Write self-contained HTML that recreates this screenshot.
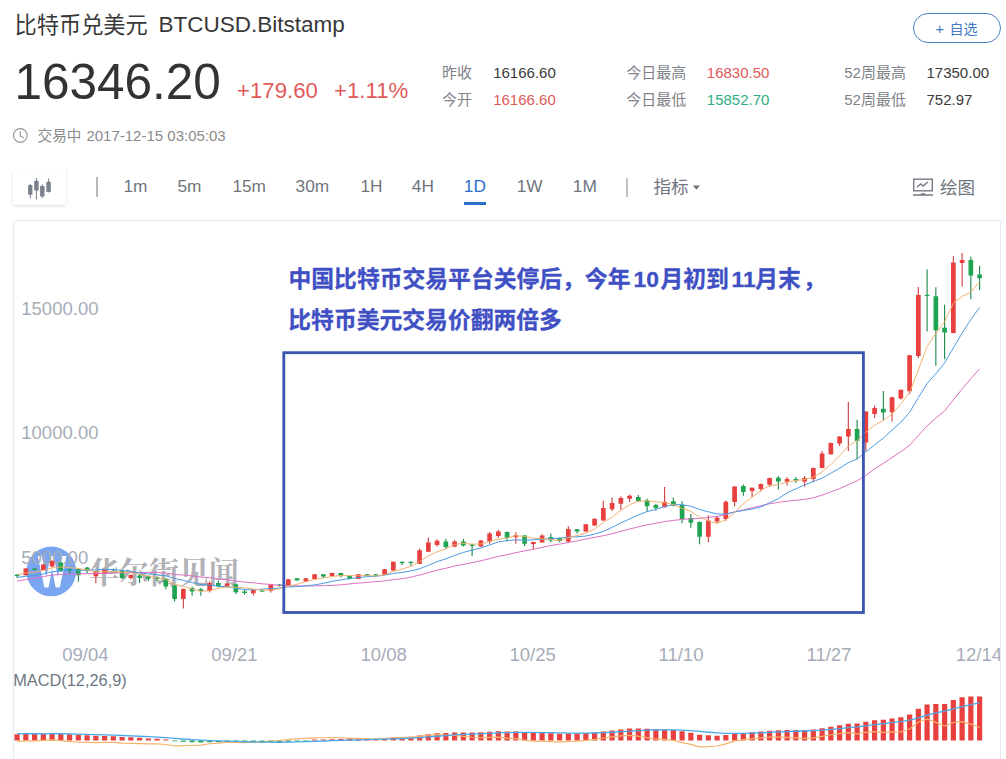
<!DOCTYPE html>
<html><head><meta charset="utf-8"><title>BTCUSD</title>
<style>
html,body{margin:0;padding:0;background:#fff}
body{width:1006px;height:759px;position:relative;overflow:hidden;font-family:"Liberation Sans",sans-serif;color:#333}
.t{position:absolute;white-space:nowrap;line-height:1}
.tb{color:#70757d;font-size:17.3px;top:178.3px}
.v{font-size:15px;color:#3a3a3a}
.red{color:#e05a5a}
.grn{color:#2fae80}
#ov{position:absolute;left:0;top:0}
#ov text{font-family:"Liberation Sans","Noto Sans CJK SC",sans-serif}
#chartbox{position:absolute;left:13px;top:220px;width:988px;height:560px;border:1px solid #e8e9ec;border-radius:3px;box-sizing:border-box;background:#fff;box-shadow:0 0 4px rgba(100,110,130,.07)}
#kbtn{position:absolute;left:12.8px;top:169.3px;width:53.6px;height:35.6px;border-radius:3px;background:#fff;box-shadow:0 1px 3px rgba(60,80,120,.20)}
#fav{position:absolute;left:913px;top:13px;width:88px;height:30px;box-sizing:border-box;border:1px solid #4a7fc4;border-radius:15px}
</style></head><body>
<div id="chartbox"></div>
<div id="kbtn"></div>
<div id="fav"></div>
<div class="t" style="left:158.5px;top:14.1px;font-size:22.5px;color:#383838">BTCUSD.Bitstamp</div>
<div class="t" style="left:14.4px;top:57.3px;font-size:49.5px;color:#333">16346.20</div>
<div class="t red" style="left:237px;top:80px;font-size:22.2px">+179.60</div>
<div class="t red" style="left:334px;top:80px;font-size:22.2px">+1.11%</div>
<div class="t" style="left:86.4px;top:128.2px;font-size:15px;color:#8a8a8a">2017-12-15 03:05:03</div>
<div class="t v" style="left:493.2px;top:64.6px">16166.60</div>
<div class="t v red" style="left:493.2px;top:91.6px">16166.60</div>
<div class="t v red" style="left:706.8px;top:64.6px">16830.50</div>
<div class="t v grn" style="left:706.8px;top:91.6px">15852.70</div>
<div class="t v" style="left:844.2px;top:64.6px;color:#7f8389">52</div>
<div class="t v" style="left:844.2px;top:91.6px;color:#7f8389">52</div>
<div class="t v" style="left:926.5px;top:64.6px">17350.00</div>
<div class="t v" style="left:926.5px;top:91.6px">752.97</div>
<div class="t" style="left:935.5px;top:21.5px;font-size:14.5px;color:#447cc4">+</div>
<div class="t" style="left:95.8px;top:177px;width:2px;height:19.5px;background:#b4b7bc"></div>
<div class="t tb" style="left:123.5px">1m</div>
<div class="t tb" style="left:177.5px">5m</div>
<div class="t tb" style="left:232.4px">15m</div>
<div class="t tb" style="left:295.6px">30m</div>
<div class="t tb" style="left:360.4px">1H</div>
<div class="t tb" style="left:411.8px">4H</div>
<div class="t tb" style="left:463.8px;color:#2a6fc9">1D</div>
<div class="t" style="left:464px;top:201.7px;width:22px;height:3px;background:#2a6fc9"></div>
<div class="t tb" style="left:516.7px">1W</div>
<div class="t tb" style="left:572.8px">1M</div>
<div class="t" style="left:625.8px;top:177.5px;width:2.6px;height:19px;background:#bfc1c5"></div>
<div class="t" style="left:13.2px;top:672px;font-size:16.35px;color:#6d7784">MACD(12,26,9)</div>
<svg id="ov" width="1006" height="759" viewBox="0 0 1006 759">
<defs><clipPath id="cc"><rect x="14" y="221" width="986" height="540"/></clipPath></defs>
<g clip-path="url(#cc)">
<circle cx="51.3" cy="571.4" r="24.9" fill="#7aa5f0"/>
<clipPath id="wc"><rect x="30" y="556" width="44" height="31.6"/></clipPath><path clip-path="url(#wc)" d="M39.1 552.7L46.5 587.5L52.1 558L57.7 587.5L65.1 552.7" fill="none" stroke="#fff" stroke-width="4.1" stroke-linejoin="miter" stroke-miterlimit="10"/>
<text x="89" y="583.1" font-size="30" font-weight="bold" fill="#b0b2b7" style="font-family:'Liberation Serif','Noto Serif CJK SC',serif">华尔街见闻</text>
<text x="21.3" y="315" font-size="18.5" fill="#a6acb8">15000.00</text>
<text x="21.3" y="439.3" font-size="18.5" fill="#a6acb8">10000.00</text>
<text x="21.3" y="563.8" font-size="18.5" fill="#a6acb8">5000.00</text>
<text x="62.2" y="661.3" font-size="18.5" fill="#a6acb8">09/04</text>
<text x="211.2" y="661.3" font-size="18.5" fill="#a6acb8">09/21</text>
<text x="360.5" y="661.3" font-size="18.5" fill="#a6acb8">10/08</text>
<text x="509.5" y="661.3" font-size="18.5" fill="#a6acb8">10/25</text>
<text x="658.5" y="661.3" font-size="18.5" fill="#a6acb8">11/10</text>
<text x="806.5" y="661.3" font-size="18.5" fill="#a6acb8">11/27</text>
<text x="955.8" y="661.3" font-size="18.5" fill="#a6acb8">12/14</text>
<path d="M25.85 568V575.5M43.35 564V570M52.1 560V567.5M95.85 571V583.3M104.6 569V574M130.85 574.5V579.6M183.35 588.5V608.4M209.6 581.3V592.6M227.1 583V587M253.35 589.3V595.4M270.85 584V592.5M288.35 579V586M305.85 578V582M314.6 574V579.3M332.1 572.8V576.3M358.35 574V579.3M384.6 568.8V575M393.35 561.5V570.8M419.6 548.6V564M428.35 537.4V552M437.1 539.3V546.6M454.6 540V547.5M480.85 540V547M489.6 532V543.7M498.35 529.7V538M515.85 532.2V543.7M533.35 541.7V549.5M542.1 534.3V542.8M568.35 526.3V542.7M585.85 524V531.8M594.6 518.5V525.8M603.35 500.8V520.8M612.1 497.4V511M620.85 496.2V509.7M629.6 494.5V502M664.6 486.9V507.6M708.35 515.3V542.3M717.1 516V523.2M725.85 500.4V520.7M734.6 486.3V506.3M752.1 487.4V497M760.85 483.6V491.5M769.6 477.6V486.8M787.1 477V485.6M804.6 476V486.8M813.35 467.5V482.2M822.1 451V468.3M830.85 442.5V454.7M839.6 436.2V446M848.35 402V451M865.85 411.2V451M874.6 405.6V418M892.1 396.8V421.7M900.85 389.4V399.5M909.6 354.8V394.2M918.35 287V358M953.35 256.2V333.3M962.1 253V286.5" stroke="#d04544" stroke-width="1.15" fill="none"/>
<path d="M17.1 574V578M34.6 568V570.5M60.85 562V572M69.6 568.5V574M78.35 568.5V581.8M87.1 567V573M113.35 568.5V571M122.1 570V579M139.6 573.7V583M148.35 575.5V581.3M157.1 576.5V581M165.85 578V589.3M174.6 584.7V601.6M192.1 586.4V595.7M200.85 588V595.7M218.35 580.5V587.2M235.85 583.7V594M244.6 589.3V594.8M262.1 590V592M279.6 584V586.5M297.1 578V580.6M323.35 574V578.2M340.85 572.8V577.3M349.6 575.8V579.3M367.1 574V576.3M375.85 574V576M402.1 561.5V565M410.85 561.5V565.8M445.85 539V549M463.35 539V546.6M472.1 544V556.2M507.1 531.5V541.2M524.6 535V546M550.85 533.6V542M559.6 537.5V542.3M577.1 529V533.6M638.35 495V501.6M647.1 498.7V511.4M655.85 503.8V510.6M673.35 497.4V506.2M682.1 501.3V523.2M690.85 514V527.8M699.6 521.5V544.3M743.35 484.4V495.7M778.35 476V489.5M795.85 477V483M857.1 419.7V459.4M883.35 391V420.2M927.1 269.5V331.5M935.85 287.2V365.7M944.6 304.6V359.3M970.85 256.7V299.2M979.6 265.7V290" stroke="#238a50" stroke-width="1.15" fill="none"/>
<path d="M23.5 568.4h4.7V575.3h-4.7zM41 564.4h4.7V569.9h-4.7zM49.75 561h4.7V566.4h-4.7zM93.5 571.8h4.7V576.3h-4.7zM102.25 569.5h4.7V573.7h-4.7zM128.5 575h4.7V578h-4.7zM181 589h4.7V599h-4.7zM207.25 583h4.7V591h-4.7zM224.75 583.5h4.7V586.4h-4.7zM251 589.8h4.7V593.2h-4.7zM268.5 584.2h4.7V590.7h-4.7zM286 579.3h4.7V585.8h-4.7zM303.5 578.2h4.7V581.5h-4.7zM312.25 574.3h4.7V579h-4.7zM329.75 573h4.7V576h-4.7zM356 574.3h4.7V579h-4.7zM382.25 569.2h4.7V574.8h-4.7zM391 561.8h4.7V570.5h-4.7zM417.25 550.3h4.7V563.8h-4.7zM426 542.5h4.7V551.7h-4.7zM434.75 540.7h4.7V545h-4.7zM452.25 541.5h4.7V546.6h-4.7zM478.5 540.4h4.7V546.6h-4.7zM487.25 533.6h4.7V541.5h-4.7zM496 531.4h4.7V536h-4.7zM513.5 535.3h4.7V537.3h-4.7zM531 542h4.7V544h-4.7zM539.75 535.6h4.7V542.4h-4.7zM566 528.9h4.7V541.5h-4.7zM583.5 524.3h4.7V531.4h-4.7zM592.25 518.8h4.7V525.4h-4.7zM601 508h4.7V520.4h-4.7zM609.75 503h4.7V509.2h-4.7zM618.5 497.9h4.7V503.8h-4.7zM627.25 495.7h4.7V498.7h-4.7zM662.25 501.8h4.7V507.2h-4.7zM706 520.4h4.7V536.7h-4.7zM714.75 517.7h4.7V521.5h-4.7zM723.5 501.8h4.7V519h-4.7zM732.25 486.6h4.7V502h-4.7zM749.75 487.7h4.7V491h-4.7zM758.5 484h4.7V489h-4.7zM767.25 478h4.7V484.8h-4.7zM784.75 478.9h4.7V481.7h-4.7zM802.25 478h4.7V481.4h-4.7zM811 467.9h4.7V478.9h-4.7zM819.75 453.5h4.7V467.9h-4.7zM828.5 442.9h4.7V454.3h-4.7zM837.25 436.6h4.7V443.4h-4.7zM846 429h4.7V436.6h-4.7zM863.5 411.6h4.7V442.5h-4.7zM872.25 408h4.7V413.9h-4.7zM889.75 397.2h4.7V412.3h-4.7zM898.5 389.8h4.7V398.5h-4.7zM907.25 355.2h4.7V391.3h-4.7zM916 295h4.7V356.1h-4.7zM951 262.5h4.7V332.9h-4.7zM959.75 260h4.7V263.1h-4.7z" fill="#e8403f"/>
<path d="M14.75 574.5h4.7V576h-4.7zM32.25 568.4h4.7V570h-4.7zM58.5 562.4h4.7V570.8h-4.7zM67.25 569h4.7V571h-4.7zM76 569h4.7V575.3h-4.7zM84.75 567.4h4.7V571h-4.7zM111 569h4.7V570.3h-4.7zM119.75 570.3h4.7V578h-4.7zM137.25 575.4h4.7V578h-4.7zM146 576.3h4.7V578.8h-4.7zM154.75 577h4.7V579h-4.7zM163.5 578.8h4.7V586.4h-4.7zM172.25 585.5h4.7V599h-4.7zM189.75 588h4.7V591.5h-4.7zM198.5 589.3h4.7V591h-4.7zM216 583h4.7V586.4h-4.7zM233.5 584.2h4.7V592.3h-4.7zM242.25 591.5h4.7V593h-4.7zM259.75 590.3h4.7V591.5h-4.7zM277.25 584.4h4.7V586h-4.7zM294.75 578.2h4.7V580.4h-4.7zM321 574.3h4.7V576.5h-4.7zM338.5 573h4.7V575.6h-4.7zM347.25 576h4.7V579h-4.7zM364.75 574.3h4.7V576h-4.7zM373.5 574.3h4.7V575.6h-4.7zM399.75 561.8h4.7V563h-4.7zM408.5 561.8h4.7V563h-4.7zM443.5 541.5h4.7V547h-4.7zM461 541.5h4.7V545.4h-4.7zM469.75 544.4h4.7V546h-4.7zM504.75 532h4.7V538h-4.7zM522.25 535.6h4.7V543.7h-4.7zM548.5 537h4.7V540.4h-4.7zM557.25 538h4.7V541h-4.7zM574.75 529.2h4.7V531.4h-4.7zM636 497h4.7V501.3h-4.7zM644.75 500.4h4.7V506.3h-4.7zM653.5 505h4.7V508h-4.7zM671 501.3h4.7V505.8h-4.7zM679.75 505h4.7V519h-4.7zM688.5 518h4.7V522.7h-4.7zM697.25 522h4.7V536.7h-4.7zM741 486h4.7V492h-4.7zM776 477.7h4.7V481.4h-4.7zM793.5 478.9h4.7V480.5h-4.7zM854.75 429h4.7V440.8h-4.7zM881 408.8h4.7V412.4h-4.7zM924.75 294.8h4.7V296h-4.7zM933.5 296.2h4.7V330.3h-4.7zM942.25 327.7h4.7V332.5h-4.7zM968.5 260h4.7V275.5h-4.7zM977.25 274.5h4.7V278.3h-4.7z" fill="#1fa551"/>
<path d="M17.1 580.99 L25.85 579.6 L34.6 578.18 L43.35 576.59 L52.1 575.11 L60.85 574.39 L69.6 573.93 L78.35 574 L87.1 573.65 L95.85 573.62 L104.6 573.35 L113.35 572.9 L122.1 572.89 L130.85 572.63 L139.6 572.44 L148.35 572.4 L157.1 572.43 L165.85 573.05 L174.6 574.36 L183.35 575.13 L192.1 575.91 L200.85 577.04 L209.6 577.69 L218.35 578.79 L227.1 579.91 L235.85 580.99 L244.6 582.09 L253.35 582.81 L262.1 583.84 L270.85 584.46 L279.6 585.29 L288.35 585.74 L297.1 585.86 L305.85 586.01 L314.6 585.83 L323.35 585.71 L332.1 585.41 L340.85 584.88 L349.6 583.88 L358.35 583.14 L367.1 582.37 L375.85 581.6 L384.6 580.9 L393.35 579.67 L402.1 578.64 L410.85 577.16 L419.6 575.03 L428.35 572.66 L437.1 570.12 L445.85 568.26 L454.6 566.04 L463.35 564.35 L472.1 562.62 L480.85 560.74 L489.6 558.7 L498.35 556.44 L507.1 554.69 L515.85 552.68 L524.6 550.91 L533.35 549.3 L542.1 547.28 L550.85 545.52 L559.6 544.11 L568.35 542.46 L577.1 540.89 L585.85 538.97 L594.6 537.39 L603.35 535.67 L612.1 533.79 L620.85 531.33 L629.6 529.04 L638.35 526.84 L647.1 524.85 L655.85 523.23 L664.6 521.64 L673.35 520.36 L682.1 519.41 L690.85 518.78 L699.6 518.43 L708.35 517.35 L717.1 516.46 L725.85 514.52 L734.6 511.81 L743.35 509.96 L752.1 507.77 L760.85 505.76 L769.6 503.72 L778.35 502.39 L787.1 501.19 L795.85 500.31 L804.6 499.43 L813.35 497.76 L822.1 495.12 L830.85 491.86 L839.6 488.61 L848.35 484.76 L857.1 480.86 L865.85 475.3 L874.6 468.86 L883.35 463.46 L892.1 457.44 L900.85 451.84 L909.6 445.27 L918.35 435.42 L927.1 425.84 L935.85 418.15 L944.6 410.88 L953.35 399.93 L962.1 388.99 L970.85 378.74 L979.6 368.75" fill="none" stroke="#e070c4" stroke-width="1.0" stroke-linejoin="round"/>
<path d="M17.1 577.38 L25.85 576.28 L34.6 575.47 L43.35 573.89 L52.1 571.81 L60.85 570.92 L69.6 570.18 L78.35 570.32 L87.1 570.13 L95.85 569.97 L104.6 569.32 L113.35 569.51 L122.1 570.31 L130.85 571.37 L139.6 573.07 L148.35 573.87 L157.1 574.67 L165.85 575.78 L174.6 578.58 L183.35 580.3 L192.1 582.5 L200.85 584.57 L209.6 585.07 L218.35 586.21 L227.1 586.76 L235.85 588.11 L244.6 589.51 L253.35 589.85 L262.1 589.1 L270.85 588.62 L279.6 588.07 L288.35 586.9 L297.1 586.64 L305.85 585.82 L314.6 584.9 L323.35 583.32 L332.1 581.32 L340.85 579.9 L349.6 578.65 L358.35 577.66 L367.1 576.66 L375.85 576.29 L384.6 575.17 L393.35 573.53 L402.1 572.38 L410.85 571.01 L419.6 568.74 L428.35 565.43 L437.1 561.6 L445.85 558.87 L454.6 555.42 L463.35 552.4 L472.1 550.08 L480.85 547.94 L489.6 545.02 L498.35 541.88 L507.1 540.65 L515.85 539.93 L524.6 540.23 L533.35 539.73 L542.1 539.14 L550.85 538.64 L559.6 538.14 L568.35 536.99 L577.1 536.77 L585.85 536.06 L594.6 534.14 L603.35 531.41 L612.1 527.34 L620.85 522.93 L629.6 518.94 L638.35 515.03 L647.1 511.56 L655.85 509.47 L664.6 506.51 L673.35 504.66 L682.1 504.68 L690.85 506.15 L699.6 509.52 L708.35 511.77 L717.1 513.97 L725.85 514.02 L734.6 512.05 L743.35 510.45 L752.1 509.04 L760.85 506.86 L769.6 502.76 L778.35 498.63 L787.1 492.85 L795.85 488.86 L804.6 484.89 L813.35 481.5 L822.1 478.19 L830.85 473.28 L839.6 468.17 L848.35 462.67 L857.1 458.95 L865.85 451.97 L874.6 444.88 L883.35 438.07 L892.1 429.99 L900.85 422.18 L909.6 412.35 L918.35 397.56 L927.1 383.5 L935.85 373.63 L944.6 362.8 L953.35 347.89 L962.1 333.09 L970.85 319.4 L979.6 307.51" fill="none" stroke="#4a9be4" stroke-width="1.0" stroke-linejoin="round"/>
<path d="M17.1 574.93 L25.85 572.93 L34.6 572.15 L43.35 570.44 L52.1 567.96 L60.85 566.92 L69.6 567.44 L78.35 568.5 L87.1 569.82 L95.85 571.98 L104.6 571.72 L113.35 571.58 L122.1 572.12 L130.85 572.92 L139.6 574.16 L148.35 576.02 L157.1 577.76 L165.85 579.44 L174.6 584.24 L183.35 586.44 L192.1 588.98 L200.85 591.38 L209.6 590.7 L218.35 588.18 L227.1 587.08 L235.85 587.24 L244.6 587.64 L253.35 589 L262.1 590.02 L270.85 590.16 L279.6 588.9 L288.35 586.16 L297.1 584.28 L305.85 581.62 L314.6 579.64 L323.35 577.74 L332.1 576.48 L340.85 575.52 L349.6 575.68 L358.35 575.68 L367.1 575.58 L375.85 576.1 L384.6 574.82 L393.35 571.38 L402.1 569.08 L410.85 566.44 L419.6 561.38 L428.35 556.04 L437.1 551.82 L445.85 548.66 L454.6 544.4 L463.35 543.42 L472.1 544.12 L480.85 544.06 L489.6 541.38 L498.35 539.36 L507.1 537.88 L515.85 535.74 L524.6 536.4 L533.35 538.08 L542.1 538.92 L550.85 539.4 L559.6 540.54 L568.35 537.58 L577.1 535.46 L585.85 533.2 L594.6 528.88 L603.35 522.28 L612.1 517.1 L620.85 510.4 L629.6 504.68 L638.35 501.18 L647.1 500.84 L655.85 501.84 L664.6 502.62 L673.35 504.64 L682.1 508.18 L690.85 511.46 L699.6 517.2 L708.35 520.92 L717.1 523.3 L725.85 519.86 L734.6 512.64 L743.35 503.7 L752.1 497.16 L760.85 490.42 L769.6 485.66 L778.35 484.62 L787.1 482 L795.85 480.56 L804.6 479.36 L813.35 477.34 L822.1 471.76 L830.85 464.56 L839.6 455.78 L848.35 445.98 L857.1 440.56 L865.85 432.18 L874.6 425.2 L883.35 420.36 L892.1 414 L900.85 403.8 L909.6 392.52 L918.35 369.92 L927.1 346.64 L935.85 333.26 L944.6 321.8 L953.35 303.26 L962.1 296.26 L970.85 292.16 L979.6 281.76" fill="none" stroke="#f0ae6c" stroke-width="0.95" stroke-linejoin="round"/>
<path d="M14.5 734.15h5.2V740.4h-5.2zM23.25 733.99h5.2V740.4h-5.2zM32 734.04h5.2V740.4h-5.2zM40.75 733.8h5.2V740.4h-5.2zM49.5 733.46h5.2V740.4h-5.2zM58.25 733.91h5.2V740.4h-5.2zM67 734.34h5.2V740.4h-5.2zM75.75 735.02h5.2V740.4h-5.2zM84.5 735.35h5.2V740.4h-5.2zM93.25 735.71h5.2V740.4h-5.2zM102 735.9h5.2V740.4h-5.2zM110.75 736.15h5.2V740.4h-5.2zM119.5 736.89h5.2V740.4h-5.2zM128.25 737.31h5.2V740.4h-5.2zM137 737.87h5.2V740.4h-5.2zM145.75 738.39h5.2V740.4h-5.2zM154.5 738.83h5.2V740.4h-5.2zM163.25 739.6h5.2V740.4h-5.2zM312 739.6h5.2V740.4h-5.2zM320.75 739.6h5.2V740.4h-5.2zM329.5 739.2h5.2V740.4h-5.2zM338.25 738.99h5.2V740.4h-5.2zM347 739.06h5.2V740.4h-5.2zM355.75 738.83h5.2V740.4h-5.2zM364.5 738.78h5.2V740.4h-5.2zM373.25 738.73h5.2V740.4h-5.2zM382 738.3h5.2V740.4h-5.2zM390.75 737.52h5.2V740.4h-5.2zM399.5 737h5.2V740.4h-5.2zM408.25 736.63h5.2V740.4h-5.2zM417 735.59h5.2V740.4h-5.2zM425.75 734.33h5.2V740.4h-5.2zM434.5 733.29h5.2V740.4h-5.2zM443.25 732.97h5.2V740.4h-5.2zM452 732.45h5.2V740.4h-5.2zM460.75 732.38h5.2V740.4h-5.2zM469.5 732.45h5.2V740.4h-5.2zM478.25 732.24h5.2V740.4h-5.2zM487 731.74h5.2V740.4h-5.2zM495.75 731.3h5.2V740.4h-5.2zM504.5 731.48h5.2V740.4h-5.2zM513.25 731.56h5.2V740.4h-5.2zM522 732.25h5.2V740.4h-5.2zM530.75 732.78h5.2V740.4h-5.2zM539.5 732.87h5.2V740.4h-5.2zM548.25 733.34h5.2V740.4h-5.2zM557 733.82h5.2V740.4h-5.2zM565.75 733.5h5.2V740.4h-5.2zM574.5 733.49h5.2V740.4h-5.2zM583.25 733.1h5.2V740.4h-5.2zM592 732.53h5.2V740.4h-5.2zM600.75 731.49h5.2V740.4h-5.2zM609.5 730.45h5.2V740.4h-5.2zM618.25 729.42h5.2V740.4h-5.2zM627 728.6h5.2V740.4h-5.2zM635.75 728.46h5.2V740.4h-5.2zM644.5 728.79h5.2V740.4h-5.2zM653.25 729.3h5.2V740.4h-5.2zM662 729.43h5.2V740.4h-5.2zM670.75 729.91h5.2V740.4h-5.2zM679.5 731.25h5.2V740.4h-5.2zM688.25 732.64h5.2V740.4h-5.2zM697 734.71h5.2V740.4h-5.2zM705.75 735.35h5.2V740.4h-5.2zM714.5 735.75h5.2V740.4h-5.2zM723.25 735.09h5.2V740.4h-5.2zM732 733.67h5.2V740.4h-5.2zM740.75 732.97h5.2V740.4h-5.2zM749.5 732.24h5.2V740.4h-5.2zM758.25 731.52h5.2V740.4h-5.2zM767 730.67h5.2V740.4h-5.2zM775.75 730.34h5.2V740.4h-5.2zM784.5 730.03h5.2V740.4h-5.2zM793.25 730.01h5.2V740.4h-5.2zM802 729.96h5.2V740.4h-5.2zM810.75 729.39h5.2V740.4h-5.2zM819.5 728.14h5.2V740.4h-5.2zM828.25 726.63h5.2V740.4h-5.2zM837 725.21h5.2V740.4h-5.2zM845.75 723.77h5.2V740.4h-5.2zM854.5 723.6h5.2V740.4h-5.2zM863.25 721.78h5.2V740.4h-5.2zM872 720.34h5.2V740.4h-5.2zM880.75 719.73h5.2V740.4h-5.2zM889.5 718.51h5.2V740.4h-5.2zM898.25 717.33h5.2V740.4h-5.2zM907 714.46h5.2V740.4h-5.2zM915.75 708.66h5.2V740.4h-5.2zM924.5 704.54h5.2V740.4h-5.2zM933.25 703.92h5.2V740.4h-5.2zM942 703.98h5.2V740.4h-5.2zM950.75 699.98h5.2V740.4h-5.2zM959.5 697.14h5.2V740.4h-5.2zM968.25 696.4h5.2V740.4h-5.2zM977 696.5h5.2V740.4h-5.2z" fill="#e8403f"/>
<path d="M172 740.4h5.2V741.2h-5.2zM180.75 740.4h5.2V741.64h-5.2zM189.5 740.4h5.2V742.18h-5.2zM198.25 740.4h5.2V742.55h-5.2zM207 740.4h5.2V742.31h-5.2zM215.75 740.4h5.2V742.31h-5.2zM224.5 740.4h5.2V742.11h-5.2zM233.25 740.4h5.2V742.49h-5.2zM242 740.4h5.2V742.81h-5.2zM250.75 740.4h5.2V742.83h-5.2zM259.5 740.4h5.2V742.93h-5.2zM268.25 740.4h5.2V742.51h-5.2zM277 740.4h5.2V742.27h-5.2zM285.75 740.4h5.2V741.63h-5.2zM294.5 740.4h5.2V741.2h-5.2zM303.25 740.4h5.2V741.2h-5.2z" fill="#1fa551"/>
<path d="M17.1 741.42 L25.85 740.96 L34.6 740.93 L43.35 740.44 L52.1 739.9 L60.85 740.71 L69.6 741.34 L78.35 742.25 L87.1 742.39 L95.85 742.57 L104.6 742.44 L113.35 742.43 L122.1 743.21 L130.85 743.33 L139.6 743.64 L148.35 743.82 L157.1 743.84 L165.85 744.49 L174.6 746.03 L183.35 745.71 L192.1 745.51 L200.85 745.08 L209.6 743.75 L218.35 743.09 L227.1 742.22 L235.85 742.47 L244.6 742.57 L253.35 742.17 L262.1 741.97 L270.85 740.98 L279.6 740.48 L288.35 739.45 L297.1 738.93 L305.85 738.43 L314.6 737.8 L323.35 737.75 L332.1 737.49 L340.85 737.73 L349.6 738.38 L358.35 738.41 L367.1 738.73 L375.85 738.98 L384.6 738.58 L393.35 737.69 L402.1 737.4 L410.85 737.41 L419.6 736.34 L428.35 735.14 L437.1 734.54 L445.85 735.19 L454.6 735.39 L463.35 736.28 L472.1 737.23 L480.85 737.53 L489.6 737.3 L498.35 737.22 L507.1 738.15 L515.85 738.71 L524.6 740.16 L533.35 741.05 L542.1 741.07 L550.85 741.68 L559.6 742.2 L568.35 741.32 L577.1 741.12 L585.85 740.36 L594.6 739.46 L603.35 737.97 L612.1 736.8 L620.85 735.88 L629.6 735.47 L638.35 736.22 L647.1 737.6 L655.85 738.97 L664.6 739.46 L673.35 740.41 L682.1 742.55 L690.85 744.35 L699.6 746.87 L708.35 746.61 L717.1 746 L725.85 743.83 L734.6 740.86 L743.35 739.66 L752.1 738.63 L760.85 737.84 L769.6 737 L778.35 737.14 L787.1 737.31 L795.85 737.89 L804.6 738.3 L813.35 737.81 L822.1 736.34 L830.85 734.74 L839.6 733.58 L848.35 732.66 L857.1 733.92 L865.85 732.31 L874.6 731.63 L883.35 732.4 L892.1 732.05 L900.85 731.83 L909.6 728.95 L918.35 721.96 L927.1 719.06 L935.85 722.33 L944.6 726.05 L953.35 722.51 L962.1 721.55 L970.85 724.14 L979.6 727.55" fill="none" stroke="#f5b26b" stroke-width="1.2" stroke-linejoin="round"/>
<path d="M17.1 733.64 L25.85 733.71 L34.6 733.77 L43.35 733.78 L52.1 733.72 L60.85 733.75 L69.6 733.87 L78.35 734.1 L87.1 734.35 L95.85 734.62 L104.6 734.88 L113.35 735.13 L122.1 735.48 L130.85 735.85 L139.6 736.25 L148.35 736.68 L157.1 737.11 L165.85 737.62 L174.6 738.33 L183.35 738.99 L192.1 739.63 L200.85 740.21 L209.6 740.63 L218.35 740.97 L227.1 741.2 L235.85 741.46 L244.6 741.73 L253.35 741.95 L262.1 742.14 L270.85 742.22 L279.6 742.23 L288.35 742.11 L297.1 741.93 L305.85 741.68 L314.6 741.35 L323.35 741.02 L332.1 740.66 L340.85 740.33 L349.6 740.07 L358.35 739.82 L367.1 739.62 L375.85 739.44 L384.6 739.21 L393.35 738.87 L402.1 738.5 L410.85 738.12 L419.6 737.62 L428.35 736.96 L437.1 736.23 L445.85 735.57 L454.6 734.95 L463.35 734.43 L472.1 734.04 L480.85 733.68 L489.6 733.29 L498.35 732.89 L507.1 732.61 L515.85 732.4 L524.6 732.37 L533.35 732.45 L542.1 732.54 L550.85 732.7 L559.6 732.92 L568.35 733.04 L577.1 733.13 L585.85 733.12 L594.6 733 L603.35 732.7 L612.1 732.25 L620.85 731.68 L629.6 731.07 L638.35 730.55 L647.1 730.2 L655.85 730.02 L664.6 729.9 L673.35 729.9 L682.1 730.17 L690.85 730.66 L699.6 731.47 L708.35 732.25 L717.1 732.95 L725.85 733.38 L734.6 733.43 L743.35 733.34 L752.1 733.12 L760.85 732.8 L769.6 732.38 L778.35 731.97 L787.1 731.58 L795.85 731.27 L804.6 731.01 L813.35 730.68 L822.1 730.17 L830.85 729.47 L839.6 728.61 L848.35 727.65 L857.1 726.84 L865.85 725.83 L874.6 724.73 L883.35 723.73 L892.1 722.68 L900.85 721.61 L909.6 720.18 L918.35 717.88 L927.1 715.21 L935.85 712.95 L944.6 711.16 L953.35 708.92 L962.1 706.56 L970.85 704.53 L979.6 702.93" fill="none" stroke="#4aa8e8" stroke-width="1.3" stroke-linejoin="round"/>
<text y="287.3" font-size="22.8" font-weight="bold" fill="#3f4fc4" stroke="#3f4fc4" stroke-width="0.3"><tspan x="288.5">中国比特币交易平台关停后，今年</tspan><tspan x="633.5">10</tspan><tspan x="660.5">月初到</tspan><tspan x="731.5">11</tspan><tspan x="755.2">月末</tspan><tspan x="803">，</tspan></text>
<text x="288.3" y="328.4" font-size="22.8" font-weight="bold" fill="#3f4fc4" stroke="#3f4fc4" stroke-width="0.3">比特币美元交易价翻两倍多</text>
<rect x="283.8" y="352.7" width="579.6" height="259.8" fill="none" stroke="#3c57b3" stroke-width="2.85"/>
</g>
<text x="14.6" y="33.2" font-size="22.2" fill="#383838">比特币兑美元</text>
<text x="37.6" y="140.8" font-size="14.6" fill="#8a8a8a">交易中</text>
<text x="442" y="78.2" font-size="15" fill="#7f8389">昨收</text>
<text x="442" y="105.2" font-size="15" fill="#7f8389">今开</text>
<text x="626.3" y="78.2" font-size="15" fill="#7f8389">今日最高</text>
<text x="626.3" y="105.2" font-size="15" fill="#7f8389">今日最低</text>
<text x="861" y="78.2" font-size="15" fill="#7f8389">周最高</text>
<text x="861" y="105.2" font-size="15" fill="#7f8389">周最低</text>
<text x="949.5" y="33.6" font-size="14" fill="#447cc4">自选</text>
<text x="653.5" y="193.2" font-size="17.5" fill="#70757d">指标</text>
<text x="940" y="193.7" font-size="17.5" fill="#70757d">绘图</text>
<circle cx="20.3" cy="135.5" r="6.8" fill="none" stroke="#999" stroke-width="1.2"/><path d="M20.3 131.2V136.2L23.8 137.8" fill="none" stroke="#999" stroke-width="1.2"/>
<g fill="#78808b" stroke="none"><rect x="28.1" y="185" width="4.3" height="9.7"/><rect x="29.75" y="184" width="1" height="14.2"/><rect x="34.2" y="180.8" width="4.4" height="9.7"/><rect x="35.9" y="178" width="1" height="21.5"/><rect x="40.1" y="186" width="4.4" height="10.4"/><rect x="41.8" y="184.4" width="1" height="13.8"/><rect x="46.4" y="181.8" width="4.4" height="10.1"/><rect x="48.1" y="178.4" width="1" height="14"/></g>
<path d="M692.8 185.6h7.2l-3.6 4.2z" fill="#70757d"/>
<g fill="none" stroke="#757a83" stroke-width="1.4"><rect x="913.7" y="179.2" width="18.6" height="11.6"/><path d="M917 187.2l3.6-3.2 2.6 2 4.6-4"/><path d="M913 195h20M921 194h4" stroke-width="1.6"/></g>
</svg>
</body></html>
